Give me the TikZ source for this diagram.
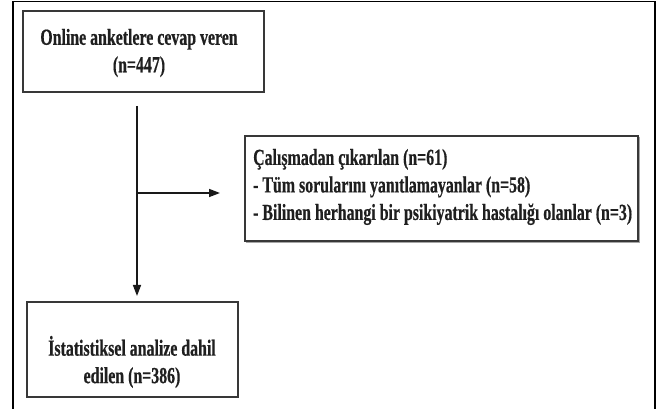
\documentclass[tikz,border=0pt]{standalone}
\usepackage{fontspec}
\setmainfont{Liberation Serif}[FakeStretch=0.69,BoldFeatures={FakeBold=0.5}]
\usetikzlibrary{arrows.meta}
\begin{document}
\begin{tikzpicture}[x=1pt,y=-1pt,
  box/.style={draw=black!78,line width=1.4pt},
  txt/.style={font=\fontsize{23}{27.5}\selectfont\bfseries,text=black!88,inner sep=0pt},
  conn/.style={line width=1.5pt,draw=black!90},
  arr/.style={conn,-{Triangle[length=11pt,width=8pt]}}]
\useasboundingbox (0,0) rectangle (670,411);
% outer frame (no bottom edge)
\draw[line width=1.8pt] (13,409) -- (13,1.5) -- (655,1.5) -- (655,409);
% boxes
\draw[box] (23,11) rectangle (264,92);
\draw[draw=black!35,line width=1.6pt] (246,242) -- (639,242) -- (639,137);
\draw[box] (245,136) rectangle (638,241);
\draw[box] (27,302) rectangle (238,397);
% texts
\node[txt,align=center] (t1) at (139,53) {Online anketlere cevap veren\\(n=447)};
\node[txt,align=left,anchor=west] (t2) at (253,187) {Çalışmadan çıkarılan (n=61)\\- Tüm sorularını yanıtlamayanlar (n=58)\\- Bilinen herhangi bir psikiyatrik hastalığı olanlar (n=3)};
\node[txt,align=center] (t3) at (132,362) {İstatistiksel analize dahil\\edilen (n=386)};
% connectors
\coordinate (s) at (137,106);
\coordinate (b) at (137,193);
\coordinate (bt) at (220,193);
\coordinate (e) at (137,296);
\draw[arr] (s) -- (e);
\draw[arr] (b) -- (bt);
\end{tikzpicture}
\end{document}
